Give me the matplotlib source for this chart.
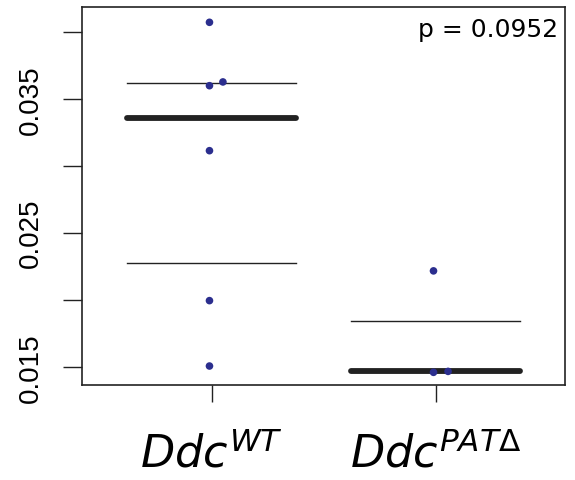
import numpy as np
import matplotlib
matplotlib.use("Agg")
import matplotlib.pyplot as plt

# data
groups = ["WT", "PATΔ"]
wt_values = [0.0407, 0.03597, 0.03625, 0.03112, 0.01993, 0.01505]
pat_values = [0.02215, 0.01458, 0.01465]
wt_offsets = [-0.01, -0.01, 0.05, -0.01, -0.01, -0.01]
pat_offsets = [-0.01, -0.01, 0.055]
p_text = "p = 0.0952"
y_ticks = [0.015, 0.020, 0.025, 0.030, 0.035, 0.040]
y_labels = ["0.015", "", "0.025", "", "0.035", ""]

plt.rcParams["mathtext.fontset"] = "dejavusans"

fig = plt.figure(figsize=(5.75, 4.81), dpi=100)
ax = fig.add_axes([82 / 575, 95 / 481, 483 / 575, 377.7 / 481])

dot_color = "#2b2e8e"
line_color = "#222222"
half = 0.378

for i, (vals, offs) in enumerate([(wt_values, wt_offsets), (pat_values, pat_offsets)]):
    x0 = i + 1
    q1, med, q3 = np.percentile(vals, [25, 50, 75])
    ax.plot([x0 - half, x0 + half], [q1, q1], color=line_color, lw=1.0, zorder=2)
    ax.plot([x0 - half, x0 + half], [q3, q3], color=line_color, lw=1.0, zorder=2)
    ax.plot([x0 - half, x0 + half], [med, med], color=line_color, lw=4.2,
            solid_capstyle="round", zorder=3)
    ax.scatter([x0 + o for o in offs], vals, s=30, color=dot_color,
               edgecolors="none", zorder=4)

ax.set_xlim(0.421, 2.577)
ax.set_ylim(0.013634, 0.04182)

ax.set_yticks(y_ticks)
ax.set_yticklabels(y_labels, rotation=90, va="center", fontsize=20,
                   family="Liberation Sans")
ax.set_xticks([1, 2])
ax.set_xticklabels([r"$\mathit{Ddc}^{\mathit{" + g + "}}$" for g in groups],
                   fontsize=32)
ax.tick_params(axis="y", length=13.5, width=1.0, pad=14, color="#222222")
ax.tick_params(axis="x", length=12.5, width=1.0, pad=21, color="#222222")

for s in ax.spines.values():
    s.set_linewidth(1.2)
    s.set_color("#222222")

ax.text(0.985, 0.975, p_text, transform=ax.transAxes, ha="right", va="top",
        fontsize=18)

fig.savefig("out.png", dpi=100)
